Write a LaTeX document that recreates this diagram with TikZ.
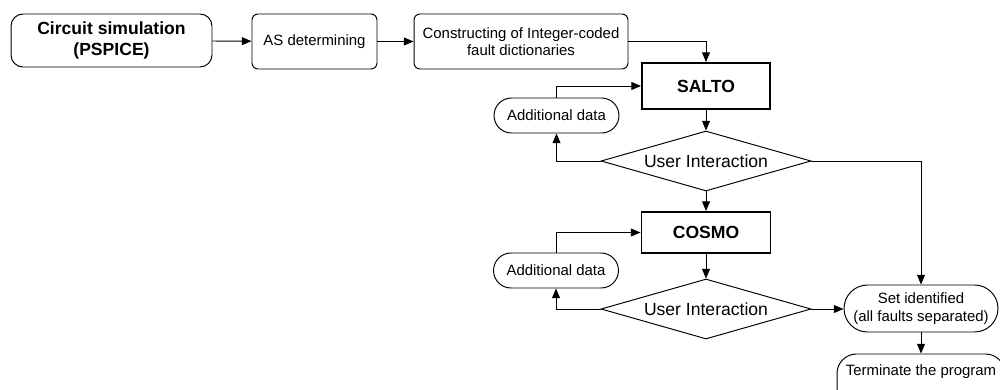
\documentclass[tikz,border=0pt]{standalone}
\usepackage{fontspec}
\setmainfont{Liberation Sans}
\usepackage{tikz}
\usetikzlibrary{arrows.meta}
\usetikzlibrary{shapes.geometric}
\tikzstyle{base}=[x=0.02cm, y=-0.02cm, line width=0.55pt, >={Triangle[length=5.5pt,width=4.5pt]}]
\tikzstyle{rbox}=[draw, rounded corners=1.2mm, inner sep=0pt, align=center, font=\fontsize{8.5}{10}\selectfont]
\tikzstyle{pill}=[rbox, rounded corners=3.5mm, minimum width=25mm, minimum height=7mm]
\tikzstyle{prog}=[draw, line width=1.1pt, inner sep=0pt, font=\fontsize{10}{12}\selectfont\bfseries]
\tikzstyle{ask}=[draw, diamond, aspect=3.5, inner sep=0pt, minimum width=42mm, minimum height=12mm, font=\fontsize{10}{12}\selectfont]

\begin{document}
\begin{tikzpicture}[base]
    \useasboundingbox (0,0) rectangle (1000,389);
        \node [rbox, rounded corners=2.4mm, minimum width=40.2mm, minimum height=10.6mm, font=\fontsize{10}{11.5}\selectfont\bfseries] (circ) at (111.5,40.5) {Circuit simulation\\(PSPICE)};
        \node [rbox, minimum width=25mm, minimum height=11mm] (asdet) at (314.5,41.5) {AS determining};
        \node [rbox, minimum width=42.8mm, minimum height=11mm] (dict) at (521,41.5) {Constructing of Integer-coded\\fault dictionaries};
        \node [prog, minimum width=25.6mm, minimum height=9.2mm] (salto) at (706,86) {SALTO};
        \node [pill] (add1) at (556.5,115.5) {Additional data};
        \node [ask] (ui1) at (706,161) {User Interaction};
        \node [prog, minimum width=25.8mm, minimum height=8.2mm] (cosmo) at (706,232.5) {COSMO};
        \node [pill] (add2) at (556,270.5) {Additional data};
        \node [ask] (ui2) at (706,309) {User Interaction};
        \node [rbox, rounded corners=4.7mm, minimum width=30.8mm, minimum height=9.4mm] (setid) at (921,308.5) {Set identified\\(all faults separated)};
        \node [rbox, rounded corners=3.9mm, minimum width=33.6mm, inner ysep=1.5mm, text height=2.8mm, text depth=5mm, anchor=base] (term) at (921,375.5) {Terminate the program};

        \draw [->] (circ) -- (asdet);
        \draw [->] (asdet) -- (dict);
        \draw [->] (dict.east) -| (salto.north);
        \draw [->] (salto) -- (ui1);
        \draw [->] (add1.north) |- (salto.west);
        \draw [->] (ui1.west) -| (add1.south);
        \draw [->] (ui1.east) -| (setid.north);
        \draw [->] (ui1) -- (cosmo);
        \draw [->] (cosmo) -- (ui2);
        \draw [->] (add2.north) |- (cosmo.west);
        \draw [->] (ui2.west) -| (add2.south);
        \draw [->] (ui2.east) -- (setid.west |- ui2.east);
        \draw [->] (setid) -- (term);
    \end{tikzpicture}
\end{document}
